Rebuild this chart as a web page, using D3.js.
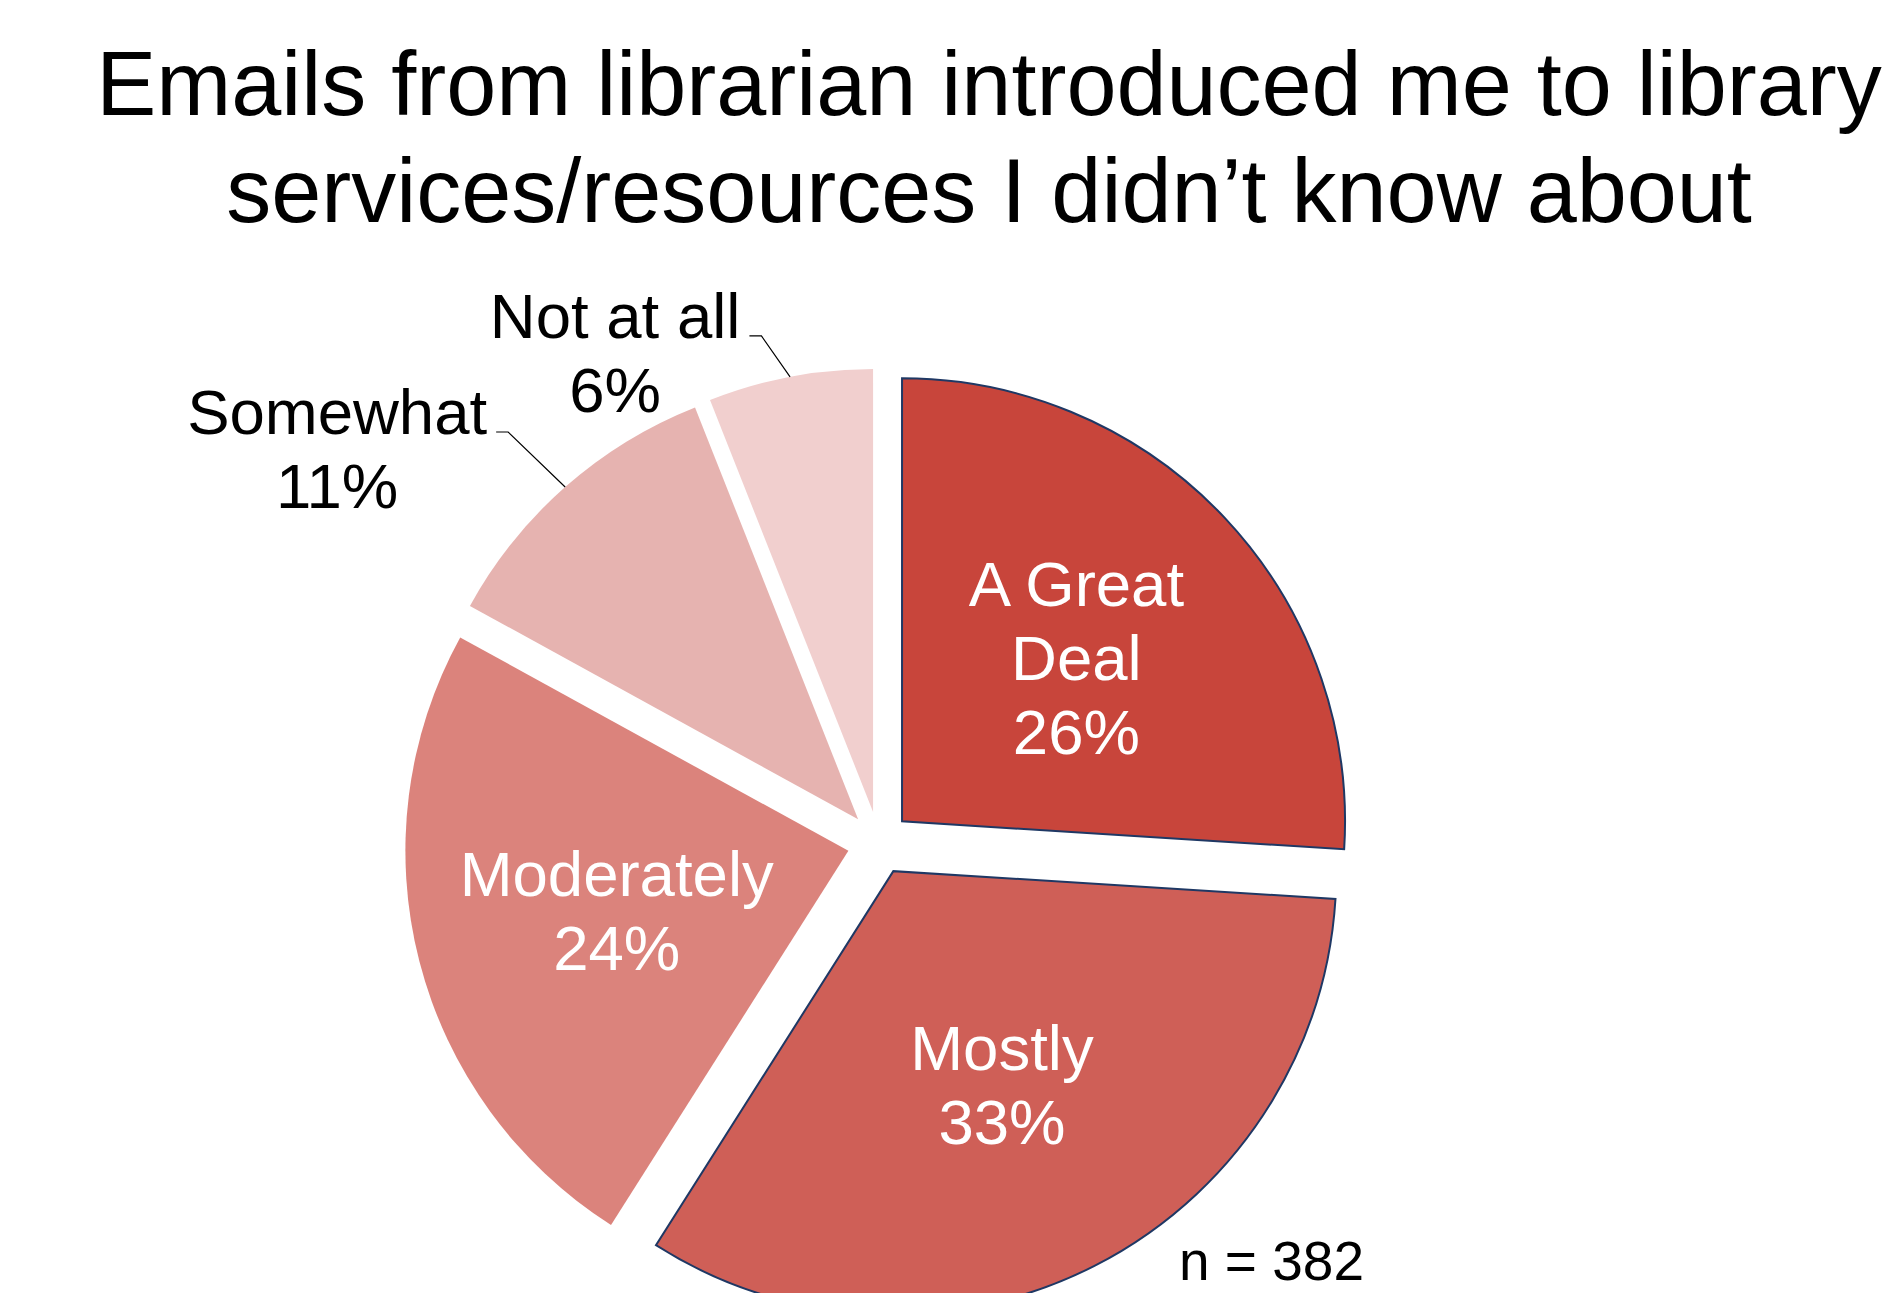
<!DOCTYPE html>
<html>
<head>
<meta charset="utf-8">
<script src="https://cdn.jsdelivr.net/npm/d3@7"></script>
<style>
  html, body { margin: 0; padding: 0; background: #ffffff; }
  svg { display: block; }
  text { font-family: "Liberation Sans", Arial, sans-serif; }
</style>
</head>
<body>
<svg id="chart" width="1903" height="1293"></svg>
<script>
// Survey responses, clockwise from 12 o'clock
const categories = ["A Great Deal", "Mostly", "Moderately", "Somewhat", "Not at all"];
const percents = [26, 33, 24, 11, 6];
const labelLines = [["A Great", "Deal"], ["Mostly"], ["Moderately"], ["Somewhat"], ["Not at all"]];
const titleLines = ["Emails from librarian introduced me to library", "services/resources I didn\u2019t know about"];
const sampleNote = "n = 382";

// Styling
const sliceColors = ["#C8453B", "#CF5F57", "#DB837C", "#E6B3B0", "#F1CFCE"];
const sliceOutlined = [true, true, false, false, false];
const labelInside = [true, true, true, false, false];

const W = 1903, H = 1293;
const cx = 879, cy = 843;       // pie centre
const R = 443;                  // pie radius
const explode = 31.6;           // slice pull-out distance
const labelFont = 63.5, lineGap = 74;

const svg = d3.select("#chart");

// Title
const title = svg.append("text")
  .attr("text-anchor", "middle")
  .attr("font-size", 90)
  .attr("fill", "#000");
titleLines.forEach((t, i) => {
  title.append("tspan").attr("x", 989).attr("y", 115 + i * 107).text(t);
});

const rows = categories.map((c, i) => ({
  name: c, value: percents[i], lines: labelLines[i],
  color: sliceColors[i], outlined: sliceOutlined[i], inside: labelInside[i]
}));

const pie = d3.pie().sort(null).value(d => d.value);
const arcs = pie(rows);
const arc = d3.arc().innerRadius(0).outerRadius(R);
const polar = (r, a) => [r * Math.sin(a), -r * Math.cos(a)];

const g = svg.append("g").attr("transform", `translate(${cx},${cy})`);

const slice = g.selectAll("g.slice").data(arcs).join("g")
  .attr("class", "slice")
  .attr("transform", d => {
    const [dx, dy] = polar(explode, (d.startAngle + d.endAngle) / 2);
    return `translate(${dx},${dy})`;
  });

slice.append("path")
  .attr("d", arc)
  .attr("fill", d => d.data.color)
  .attr("stroke", d => d.data.outlined ? "#1F3864" : "none")
  .attr("stroke-width", 2)
  .attr("stroke-linejoin", "miter");

// Labels inside the larger slices
const capH = labelFont * 0.716;
slice.filter(d => d.data.inside).each(function(d) {
  const mid = (d.startAngle + d.endAngle) / 2;
  const [lx, ly] = polar(R * 0.54, mid);
  const lines = d.data.lines.concat([d.data.value + "%"]);
  const first = ly - (lines.length - 1) * lineGap / 2 + capH / 2;
  const t = d3.select(this).append("text")
    .attr("text-anchor", "middle")
    .attr("font-size", labelFont)
    .attr("fill", "#ffffff");
  lines.forEach((s, i) => t.append("tspan").attr("x", lx).attr("y", first + i * lineGap).text(s));
});

// Labels outside the thin slices, with leader lines
const outerElbow = { "Somewhat": { r: 522, a: 317.9 }, "Not at all": { r: 489, a: 346.8 } };
slice.filter(d => !d.data.inside).each(function(d) {
  const sel = d3.select(this);
  const mid = (d.startAngle + d.endAngle) / 2;
  const [ax, ay] = polar(R, mid);
  const e = outerElbow[d.data.name];
  const [ex, ey] = polar(e.r, e.a * Math.PI / 180);
  const tailX = ex - 12;
  sel.append("path")
    .attr("d", d3.line()([[ax, ay], [ex, ey], [tailX, ey]]))
    .attr("fill", "none")
    .attr("stroke", "#000")
    .attr("stroke-width", 1.2);
  const lines = d.data.lines.concat([d.data.value + "%"]);
  const t = sel.append("text")
    .attr("text-anchor", "middle")
    .attr("font-size", labelFont)
    .attr("fill", "#000");
  const spans = lines.map((s, i) => t.append("tspan").attr("y", ey + 2 + i * lineGap).text(s));
  const widest = d3.max(spans, s => s.node().getComputedTextLength());
  const centerX = tailX - 9 - widest / 2;
  spans.forEach(s => s.attr("x", centerX));
});

// Sample size note
svg.append("text")
  .attr("x", 1364).attr("y", 1280)
  .attr("text-anchor", "end")
  .attr("font-size", 55)
  .attr("fill", "#000")
  .text(sampleNote);
</script>
</body>
</html>
